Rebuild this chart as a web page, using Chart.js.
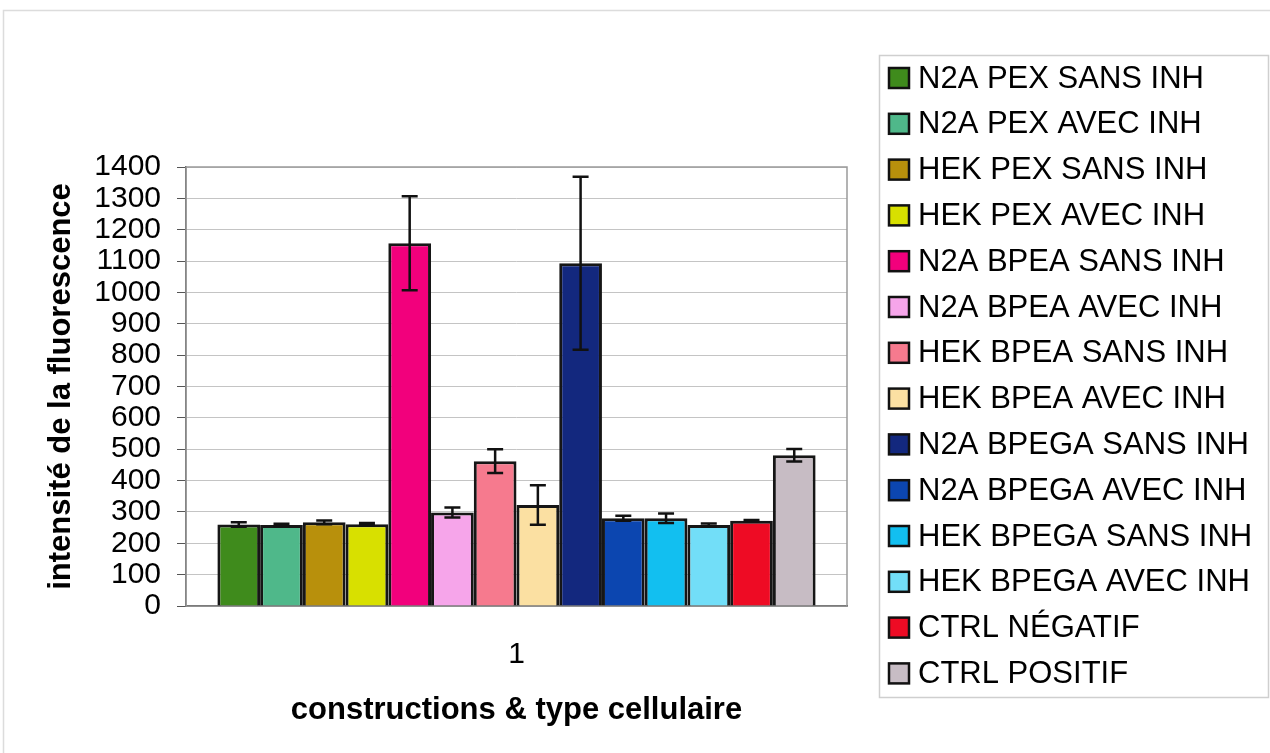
<!DOCTYPE html>
<html>
<head>
<meta charset="utf-8">
<script src="https://cdn.jsdelivr.net/npm/chart.js@4.4.1/dist/chart.umd.min.js"></script>
<style>
  html, body { margin: 0; padding: 0; background: #fff; }
  #wrap { width: 1270px; height: 753px; }
</style>
</head>
<body>
<div id="wrap"><canvas id="fluoChart" width="1270" height="753"></canvas></div>
<script>
// categories (one group only, labelled "1")
const categories = ['1'];

// series names as in the legend
const seriesNames = [
    'N2A PEX SANS INH', 'N2A PEX AVEC INH', 'HEK PEX SANS INH', 'HEK PEX AVEC INH',
    'N2A BPEA SANS INH', 'N2A BPEA AVEC INH', 'HEK BPEA SANS INH', 'HEK BPEA AVEC INH',
    'N2A BPEGA SANS INH', 'N2A BPEGA AVEC INH', 'HEK BPEGA SANS INH', 'HEK BPEGA AVEC INH',
    'CTRL NÉGATIF', 'CTRL POSITIF'
];

// mean fluorescence
const meanValues = [260, 258, 267, 261, 1157, 298, 462, 322, 1093, 280, 280, 258, 272, 481];

// half length of each error bar
const errorValues = [7, 4, 6, 4, 150, 16, 38, 63, 276, 8, 15, 5, 2, 20];

const barColors = [
    '#3f8b1c', '#4fb88a', '#b8900c', '#d8e000',
    '#f2007c', '#f6a5ea', '#f67a8e', '#fbe0a2',
    '#13287e', '#0c46b0', '#12bff0', '#72def8',
    '#ee0b24', '#c7bcc4'
];

const yTicks = { min: 0, max: 1400, step: 100 };

Chart.defaults.font.family = '"Liberation Sans", Arial, sans-serif';
Chart.defaults.color = '#000';

// white page with a faint frame
const frame = {
    id: 'frame',
    beforeDraw(chart) {
        const ctx = chart.ctx;
        ctx.save();
        ctx.fillStyle = '#fff';
        ctx.fillRect(0, 0, chart.width, chart.height);
        ctx.strokeStyle = '#dcdcdc';
        ctx.lineWidth = 1.5;
        ctx.strokeRect(3.5, 10.5, chart.width + 10, chart.height + 10);
        ctx.restore();
    },
    beforeDatasetsDraw(chart) {
        const { ctx, chartArea: a } = chart;
        ctx.save();
        ctx.strokeStyle = '#9a9a9a';
        ctx.lineWidth = 1.5;
        ctx.strokeRect(a.left, a.top, a.right - a.left, a.bottom - a.top);
        ctx.restore();
    }
};

// error bars drawn through the y scale
const errorBars = {
    id: 'errorBars',
    afterDatasetsDraw(chart) {
        const ctx = chart.ctx;
        const y = chart.scales.y;
        ctx.save();
        ctx.strokeStyle = '#111';
        ctx.lineWidth = 2.5;
        chart.data.datasets.forEach((ds, i) => {
            const bar = chart.getDatasetMeta(i).data[0];
            if (!bar) return;
            const v = ds.data[0], e = ds.errors[0];
            const top = y.getPixelForValue(v + e);
            const bot = y.getPixelForValue(v - e);
            const cap = 8;
            ctx.beginPath();
            ctx.moveTo(bar.x, top); ctx.lineTo(bar.x, bot);
            ctx.moveTo(bar.x - cap, top); ctx.lineTo(bar.x + cap, top);
            ctx.moveTo(bar.x - cap, bot); ctx.lineTo(bar.x + cap, bot);
            ctx.stroke();
        });
        ctx.restore();
    }
};

// boxed legend on the right
const boxLegend = {
    id: 'boxLegend',
    afterDraw(chart) {
        const ctx = chart.ctx;
        ctx.save();
        ctx.strokeStyle = '#cfcfcf';
        ctx.lineWidth = 1.5;
        ctx.strokeRect(879.5, 55.5, 389, 642);
        ctx.font = '31px "Liberation Sans", Arial, sans-serif';
        ctx.textBaseline = 'middle';
        ctx.textAlign = 'left';
        chart.data.datasets.forEach((ds, i) => {
            const cy = 78 + i * 45.8;
            ctx.fillStyle = ds.backgroundColor;
            ctx.fillRect(889, cy - 10, 20, 20);
            ctx.strokeStyle = '#111';
            ctx.lineWidth = 2.5;
            ctx.strokeRect(889, cy - 10, 20, 20);
            ctx.fillStyle = '#000';
            ctx.fillText(ds.label, 918, cy + 1);
        });
        ctx.restore();
    }
};

const datasets = seriesNames.map((name, i) => ({
    label: name,
    data: [meanValues[i]],
    errors: [errorValues[i]],
    backgroundColor: barColors[i],
    borderColor: '#161616',
    borderWidth: 3,
    barPercentage: 1.0,
    categoryPercentage: 0.905
}));

new Chart(document.getElementById('fluoChart'), {
    type: 'bar',
    data: { labels: categories, datasets: datasets },
    plugins: [frame, errorBars, boxLegend],
    options: {
        responsive: false,
        animation: false,
        devicePixelRatio: 1,
        layout: { padding: { left: 0, right: 423, top: 167, bottom: 0 } },
        plugins: {
            legend: { display: false },
            tooltip: { enabled: false }
        },
        scales: {
            x: {
                grid: { display: false, drawTicks: true, tickLength: 8 },
                border: { display: true, color: '#222', width: 1.5 },
                ticks: { font: { size: 30 }, padding: 23, color: '#000' },
                title: {
                    display: true,
                    text: 'constructions & type cellulaire',
                    font: { size: 31, weight: 'bold' },
                    color: '#000',
                    padding: { top: 0, bottom: 24 }
                },
                afterFit(scale) { scale.height = 147; }
            },
            y: {
                min: yTicks.min,
                max: yTicks.max,
                grid: { color: '#c4c4c4', lineWidth: 1, tickLength: 9, tickColor: '#555' },
                border: { display: true, color: '#444', width: 1.5 },
                ticks: {
                    stepSize: yTicks.step,
                    autoSkip: false,
                    font: { size: 30 },
                    padding: 16,
                    color: '#000',
                    callback: value => String(value)
                },
                title: {
                    display: true,
                    text: 'intensité de la fluorescence',
                    font: { size: 31, weight: 'bold' },
                    color: '#000',
                    padding: { top: 43, bottom: 0 }
                },
                afterFit(scale) { scale.width = 186; }
            }
        }
    }
});
</script>
</body>
</html>
